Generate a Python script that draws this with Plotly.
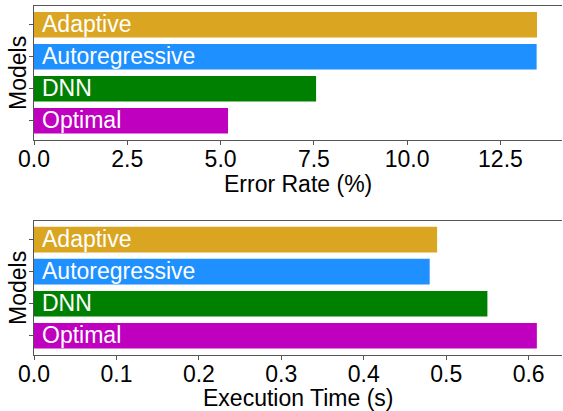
import plotly.graph_objects as go
from plotly.subplots import make_subplots

models = ["Adaptive", "Autoregressive", "DNN", "Optimal"]
colors = ["#DAA520", "#1E90FF", "#008000", "#BF00BF"]
error_rate = [13.48, 13.47, 7.56, 5.20]
exec_time = [0.489, 0.480, 0.550, 0.610]

FONT = "Liberation Sans, Arial, Helvetica, sans-serif"
AX = "#555555"
W, H = 563, 411
FS = 23

fig = make_subplots(rows=2, cols=1)

fig.add_trace(go.Bar(y=models, x=error_rate, orientation="h", width=0.8,
                     marker=dict(color=colors, line=dict(width=0)), showlegend=False),
              row=1, col=1)
fig.add_trace(go.Bar(y=models, x=exec_time, orientation="h", width=0.8,
                     marker=dict(color=colors, line=dict(width=0)), showlegend=False),
              row=2, col=1)

for ax in ["x", "x2"]:
    for m in models:
        fig.add_annotation(x=0, y=m, xref=ax, yref=ax.replace("x", "y"), text=m,
                           showarrow=False, xanchor="left", yanchor="middle",
                           xshift=6, yshift=1,
                           font=dict(family=FONT, size=FS, color="white"))

def px(x):
    return x / W

def py(y):
    return 1 - y / H

# axis titles
for txt, x, y, ang in [("Error Rate (%)", 298, 184, 0),
                       ("Execution Time (s)", 298, 398, 0),
                       ("Models", 18, 73, -90),
                       ("Models", 18, 288, -90)]:
    fig.add_annotation(x=px(x), y=py(y), xref="paper", yref="paper", text=txt,
                       showarrow=False, xanchor="center", yanchor="middle",
                       textangle=ang, font=dict(family=FONT, size=FS, color="black"))

xcommon = dict(showline=True, linecolor=AX, linewidth=1, mirror=True,
               ticks="outside", ticklen=4, tickcolor=AX, tickwidth=1,
               ticklabelstandoff=-5,
               showgrid=False, zeroline=False, tickformat=".1f", automargin=False,
               tickfont=dict(family=FONT, size=FS, color="black"))
ycommon = dict(showline=True, linecolor=AX, linewidth=1,
               ticks="outside", ticklen=4, tickcolor=AX, tickwidth=1,
               showgrid=False, zeroline=False, showticklabels=False, automargin=False,
               categoryorder="array", categoryarray=models,
               range=[3.59, -0.59])

fig.update_xaxes(**xcommon, range=[0, 14.15], dtick=2.5, tick0=0, row=1, col=1)
fig.update_xaxes(**xcommon, range=[0, 0.6405], dtick=0.1, tick0=0, row=2, col=1)
fig.update_yaxes(**ycommon, row=1, col=1)
fig.update_yaxes(**ycommon, row=2, col=1)

fig.update_layout(
    width=W, height=H,
    margin=dict(l=0, r=0, t=0, b=0),
    plot_bgcolor="white", paper_bgcolor="white",
    bargap=0.2,
    font=dict(family=FONT, size=FS, color="black"),
)
fig.layout.xaxis.domain = [px(34), px(562)]
fig.layout.xaxis2.domain = [px(34), px(562)]
fig.layout.yaxis.domain = [py(139.5), py(6)]
fig.layout.yaxis2.domain = [py(354.7), py(220.7)]

fig.write_html("out.html", config={"displayModeBar": False},
               post_script="document.body.style.margin='0';document.body.style.overflow='hidden';")
